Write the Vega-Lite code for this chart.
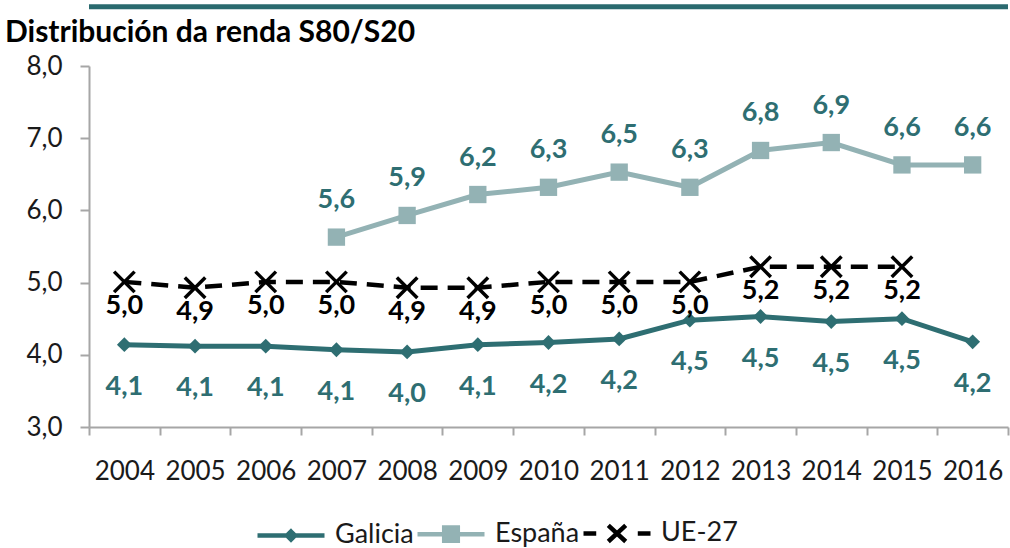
{
  "$schema": "https://vega.github.io/schema/vega-lite/v6.json",
  "width": 919,
  "height": 361,
  "autosize": {"type": "none"},
  "padding": {"left": 89, "top": 66, "right": 2, "bottom": 121},
  "config": {
    "locale": {"number": {"decimal": ",", "thousands": ".", "grouping": [3], "currency": ["", " €"]}},
    "view": {"stroke": null},
    "font": "Lato"
  },
  "title": {
    "text": "Distribución da renda S80/S20",
    "anchor": "start",
    "frame": "group",
    "dx": -84,
    "fontSize": 30,
    "fontWeight": "bold",
    "font": "Lato",
    "color": "#000000",
    "baseline": "alphabetic",
    "offset": -68
  },
  "data": {
    "values": [
      {"year": "2004", "series": "Galicia", "value": 4.14},
      {"year": "2005", "series": "Galicia", "value": 4.12},
      {"year": "2006", "series": "Galicia", "value": 4.12},
      {"year": "2007", "series": "Galicia", "value": 4.07},
      {"year": "2008", "series": "Galicia", "value": 4.04},
      {"year": "2009", "series": "Galicia", "value": 4.14},
      {"year": "2010", "series": "Galicia", "value": 4.17},
      {"year": "2011", "series": "Galicia", "value": 4.22},
      {"year": "2012", "series": "Galicia", "value": 4.48},
      {"year": "2013", "series": "Galicia", "value": 4.53},
      {"year": "2014", "series": "Galicia", "value": 4.46},
      {"year": "2015", "series": "Galicia", "value": 4.5},
      {"year": "2016", "series": "Galicia", "value": 4.18},
      {"year": "2007", "series": "España", "value": 5.63},
      {"year": "2008", "series": "España", "value": 5.93},
      {"year": "2009", "series": "España", "value": 6.22},
      {"year": "2010", "series": "España", "value": 6.32},
      {"year": "2011", "series": "España", "value": 6.53},
      {"year": "2012", "series": "España", "value": 6.32},
      {"year": "2013", "series": "España", "value": 6.83},
      {"year": "2014", "series": "España", "value": 6.94},
      {"year": "2015", "series": "España", "value": 6.63},
      {"year": "2016", "series": "España", "value": 6.63},
      {"year": "2004", "series": "UE-27", "value": 5.01},
      {"year": "2005", "series": "UE-27", "value": 4.93},
      {"year": "2006", "series": "UE-27", "value": 5.01},
      {"year": "2007", "series": "UE-27", "value": 5.01},
      {"year": "2008", "series": "UE-27", "value": 4.93},
      {"year": "2009", "series": "UE-27", "value": 4.93},
      {"year": "2010", "series": "UE-27", "value": 5.01},
      {"year": "2011", "series": "UE-27", "value": 5.01},
      {"year": "2012", "series": "UE-27", "value": 5.01},
      {"year": "2013", "series": "UE-27", "value": 5.22},
      {"year": "2014", "series": "UE-27", "value": 5.22},
      {"year": "2015", "series": "UE-27", "value": 5.22}
    ]
  },
  "layer": [
    {
      "data": {"values": [{}]},
      "mark": {"type": "rule", "color": "#2a6a6f", "strokeWidth": 5, "clip": false},
      "encoding": {"y": {"datum": 8.82, "type": "quantitative"}}
    },
    {
      "encoding": {
        "x": {
          "field": "year",
          "type": "ordinal",
          "scale": {"type": "band", "paddingInner": 0, "paddingOuter": 0},
          "axis": {
            "title": null,
            "tickBand": "extent",
            "labelAngle": 0,
            "domainColor": "#a6a6a6",
            "domainWidth": 2,
            "tickColor": "#a6a6a6",
            "tickWidth": 2,
            "tickSize": 8,
            "labelPadding": 23,
            "labelFontSize": 26,
            "labelFont": "Lato",
            "labelColor": "#1a1a1a"
          }
        },
        "y": {
          "field": "value",
          "type": "quantitative",
          "scale": {"domain": [3, 8], "nice": false, "zero": false},
          "axis": {
            "title": null,
            "values": [3, 4, 5, 6, 7, 8],
            "format": ".1f",
            "grid": false,
            "domainColor": "#a6a6a6",
            "domainWidth": 2,
            "tickColor": "#a6a6a6",
            "tickWidth": 2,
            "tickSize": 9,
            "labelPadding": 18,
            "labelFontSize": 26,
            "labelFont": "Lato",
            "labelColor": "#1a1a1a"
          }
        }
      },
      "layer": [
        {
          "transform": [{"filter": "false"}],
          "mark": {"type": "point", "filled": false, "opacity": 1, "strokeWidth": 4.5},
          "encoding": {
            "color": {
              "field": "series",
              "type": "nominal",
              "scale": {"domain": ["Galicia", "España", "UE-27"], "range": ["#2e6e72", "#93b2b4", "#000000"]},
              "legend": {"title": null}
            },
            "shape": {
              "field": "series",
              "type": "nominal",
              "scale": {
                "domain": ["Galicia", "España", "UE-27"],
                "range": [
                  "M-1,0L1,0M0,-0.12L0.12,0L0,0.12L-0.12,0Z",
                  "M-1,0L1,0M-0.27,-0.2L0.27,-0.2M-0.27,-0.1L0.27,-0.1M-0.27,0L0.27,0M-0.27,0.1L0.27,0.1M-0.27,0.2L0.27,0.2",
                  "M-1,0L-0.62,0M0.62,0L1,0M-0.26,-0.24L0.26,0.24M-0.26,0.24L0.26,-0.24"
                ]
              },
              "legend": {
                "orient": "none",
                "legendX": 166,
                "legendY": 431,
                "direction": "horizontal",
                "title": null,
                "symbolSize": 4489,
                "symbolStrokeWidth": 4.5,
                "labelFontSize": 27,
                "labelFont": "Lato",
                "labelColor": "#1a1a1a",
                "labelOffset": 8,
                "columnPadding": -6
              }
            }
          }
        },
        {
          "transform": [{"filter": "datum.series === 'España'"}],
          "mark": {"type": "line", "strokeWidth": 5, "color": "#93b2b4"}
        },
        {
          "transform": [{"filter": "datum.series === 'Galicia'"}],
          "mark": {"type": "line", "strokeWidth": 5, "color": "#2e6e72"}
        },
        {
          "transform": [{"filter": "datum.series === 'UE-27'"}],
          "mark": {"type": "line", "strokeWidth": 4.5, "color": "#000000", "strokeDash": [17, 10]}
        },
        {
          "transform": [{"filter": "datum.series === 'Galicia'"}],
          "mark": {"type": "point", "shape": "diamond", "filled": true, "size": 220, "color": "#2e6e72", "opacity": 1}
        },
        {
          "transform": [{"filter": "datum.series === 'España'"}],
          "mark": {"type": "point", "shape": "square", "filled": true, "size": 300, "color": "#93b2b4", "opacity": 1}
        },
        {
          "transform": [{"filter": "datum.series === 'UE-27'"}],
          "mark": {"type": "point", "shape": "M-1,-1L1,1M-1,1L1,-1", "filled": false, "size": 420, "color": "#000000", "strokeWidth": 3.5, "opacity": 1}
        },
        {
          "transform": [{"filter": "datum.series === 'Galicia'"}],
          "mark": {"type": "text", "dy": 42, "fontSize": 27, "fontWeight": "bold", "font": "Lato", "color": "#2e6e72"},
          "encoding": {"text": {"field": "value", "type": "quantitative", "format": ".1f"}}
        },
        {
          "transform": [{"filter": "datum.series === 'España'"}],
          "mark": {"type": "text", "dy": -37, "fontSize": 27, "fontWeight": "bold", "font": "Lato", "color": "#2e6e72"},
          "encoding": {"text": {"field": "value", "type": "quantitative", "format": ".1f"}}
        },
        {
          "transform": [{"filter": "datum.series === 'UE-27'"}],
          "mark": {"type": "text", "dy": 24, "fontSize": 27, "fontWeight": "bold", "font": "Lato", "color": "#000000"},
          "encoding": {"text": {"field": "value", "type": "quantitative", "format": ".1f"}}
        }
      ]
    }
  ]
}
